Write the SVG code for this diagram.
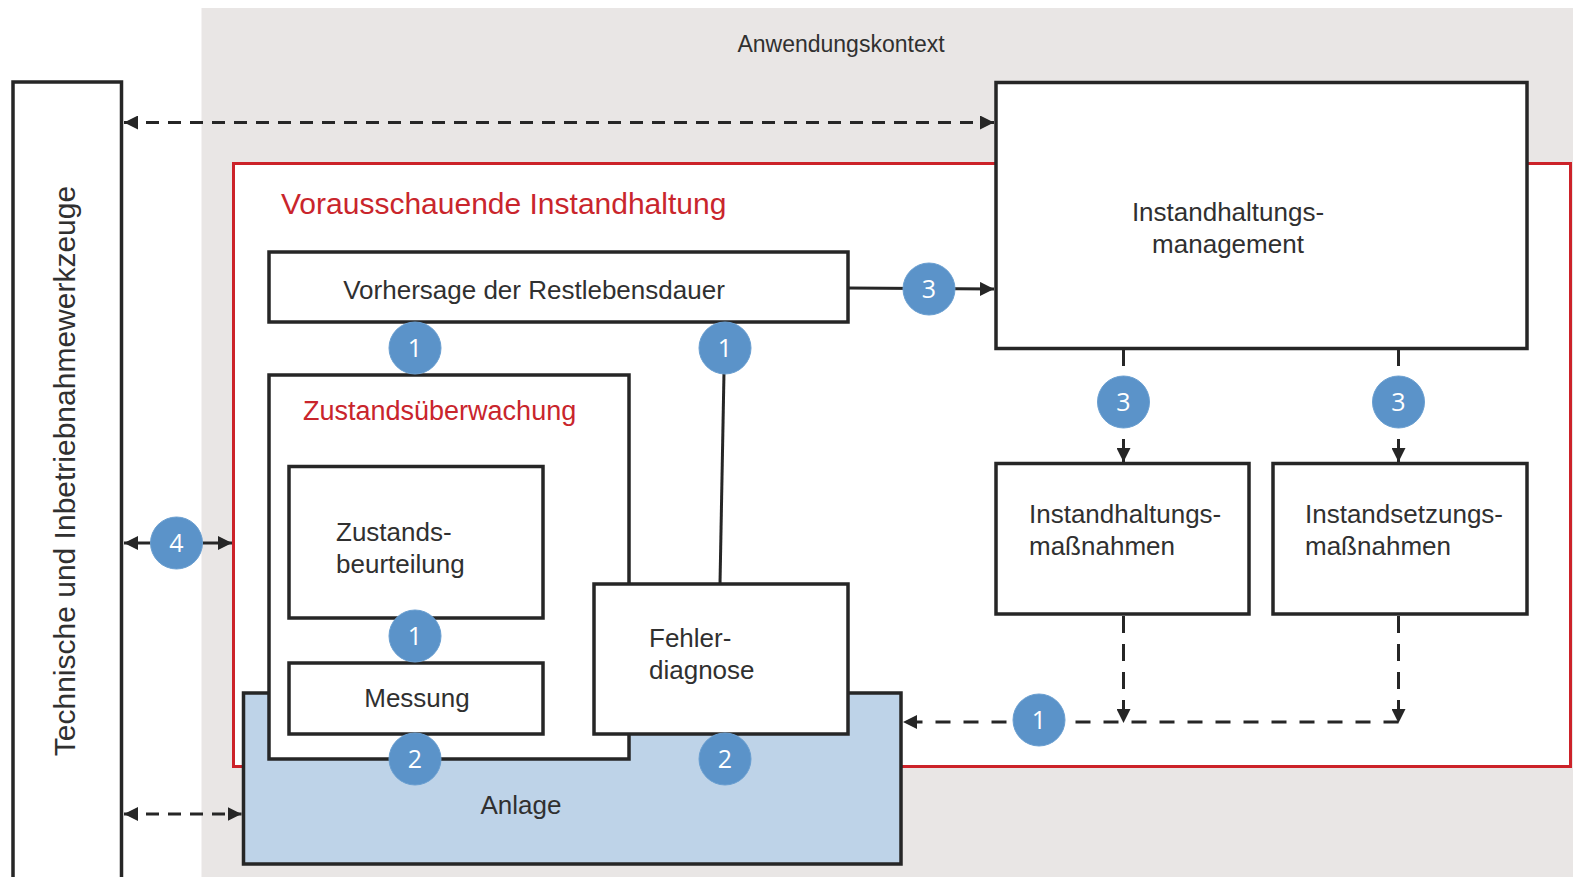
<svg xmlns="http://www.w3.org/2000/svg" width="1573" height="877" viewBox="0 0 1573 877">
  <style>
    .box { fill: #ffffff; stroke: #262626; stroke-width: 3.5; }
    .lbl { font-family: "Liberation Sans", Arial, sans-serif; font-size: 26px; fill: #303030; }
    .red { font-family: "Liberation Sans", Arial, sans-serif; fill: #c9252c; }
    .ln { fill: none; stroke: #262626; stroke-width: 3; }
    .dash { fill: none; stroke: #262626; stroke-width: 3; stroke-dasharray: 13 9; }
    .dashv { fill: none; stroke: #262626; stroke-width: 3; stroke-dasharray: 17 11; }
    .dashh { fill: none; stroke: #262626; stroke-width: 3; stroke-dasharray: 15 13; }
    .badge circle { fill: #5b93c9; stroke: #6a9fd1; stroke-width: 1; }
    .badge text { font-family: "Open Sans", "Noto Sans", sans-serif; font-size: 25px; fill: #ffffff; text-anchor: middle; }
  </style>
  <defs>
    <marker id="arrow" viewBox="0 0 12 12" refX="12" refY="6" markerWidth="14" markerHeight="14" markerUnits="userSpaceOnUse" orient="auto-start-reverse">
      <path d="M0,0 L12,6 L0,12 z" fill="#262626"/>
    </marker>
  </defs>

  <!-- application context background -->
  <rect x="201.5" y="8" width="1372" height="869" fill="#e9e6e5"/>
  <text x="841" y="52" class="lbl" text-anchor="middle" style="font-size:23px">Anwendungskontext</text>

  <!-- predictive maintenance frame -->
  <g id="praediktiv">
    <rect x="233.5" y="163.5" width="1337" height="603" fill="#ffffff" stroke="#cc2229" stroke-width="3"/>
    <text x="281" y="214" class="red" font-size="30">Vorausschauende Instandhaltung</text>
  </g>

  <!-- tools column -->
  <g id="werkzeuge">
    <rect x="13" y="82" width="108.5" height="810" class="box"/>
    <text transform="translate(75,471) rotate(-90)" class="lbl" text-anchor="middle" style="font-size:30px">Technische und Inbetriebnahmewerkzeuge</text>
  </g>

  <!-- plant -->
  <g id="anlage">
    <rect x="243.5" y="693" width="657.5" height="171" fill="#bed3e8" stroke="#262626" stroke-width="3.5"/>
    <text x="521" y="814" class="lbl" text-anchor="middle">Anlage</text>
  </g>

  <!-- condition monitoring -->
  <g id="zustandsueberwachung">
    <rect x="269" y="375" width="360" height="384" class="box"/>
    <text x="303" y="420" class="red" font-size="27">Zustandsüberwachung</text>
  </g>
  <g id="zustandsbeurteilung">
    <rect x="289" y="466.5" width="254" height="151.5" class="box"/>
    <text x="336" y="541" class="lbl">Zustands-</text>
    <text x="336" y="573" class="lbl">beurteilung</text>
  </g>
  <g id="messung">
    <rect x="289" y="663" width="254" height="71" class="box"/>
    <text x="417" y="707" class="lbl" text-anchor="middle">Messung</text>
  </g>

  <!-- fault diagnosis -->
  <g id="fehlerdiagnose">
    <rect x="594" y="584" width="254" height="150" class="box"/>
    <text x="649" y="647" class="lbl">Fehler-</text>
    <text x="649" y="679" class="lbl">diagnose</text>
  </g>

  <!-- remaining useful life -->
  <g id="restlebensdauer">
    <rect x="269" y="252" width="579" height="70" class="box"/>
    <text x="534" y="299" class="lbl" text-anchor="middle">Vorhersage der Restlebensdauer</text>
  </g>

  <!-- maintenance management -->
  <g id="management">
    <rect x="996" y="82.5" width="531" height="266" class="box"/>
    <text x="1228" y="221" class="lbl" text-anchor="middle">Instandhaltungs-</text>
    <text x="1228" y="253" class="lbl" text-anchor="middle">management</text>
  </g>
  <g id="instandhaltungsmassnahmen">
    <rect x="996" y="463.5" width="253" height="150.5" class="box"/>
    <text x="1029" y="523" class="lbl">Instandhaltungs-</text>
    <text x="1029" y="555" class="lbl">maßnahmen</text>
  </g>
  <g id="instandsetzungsmassnahmen">
    <rect x="1273" y="463.5" width="254" height="150.5" class="box"/>
    <text x="1305" y="523" class="lbl">Instandsetzungs-</text>
    <text x="1305" y="555" class="lbl">maßnahmen</text>
  </g>

  <!-- connectors -->
  <g id="connectors">
    <line x1="124" y1="122.5" x2="994" y2="122.5" class="dash" marker-start="url(#arrow)" marker-end="url(#arrow)"/>
    <line x1="124" y1="814" x2="241.5" y2="814" class="dash" marker-start="url(#arrow)" marker-end="url(#arrow)"/>
    <line x1="848" y1="288" x2="994" y2="289" class="ln" marker-end="url(#arrow)"/>
    <line x1="1123.5" y1="348" x2="1123.5" y2="366" class="ln"/>
    <line x1="1123.5" y1="439" x2="1123.5" y2="462" class="ln" marker-end="url(#arrow)"/>
    <line x1="1398.5" y1="348" x2="1398.5" y2="366" class="ln"/>
    <line x1="1398.5" y1="439" x2="1398.5" y2="462" class="ln" marker-end="url(#arrow)"/>
    <line x1="724" y1="372" x2="720" y2="584" class="ln"/>
    <line x1="1123.5" y1="616" x2="1123.5" y2="723" class="dashv" marker-end="url(#arrow)"/>
    <line x1="1398.5" y1="616" x2="1398.5" y2="723" class="dashv" marker-end="url(#arrow)"/>
    <line x1="1398.5" y1="722" x2="903" y2="722" class="dashh" marker-end="url(#arrow)"/>
    <line x1="152" y1="543" x2="124" y2="543" class="ln" marker-end="url(#arrow)"/>
    <line x1="201" y1="543" x2="232" y2="543" class="ln" marker-end="url(#arrow)"/>
  </g>

  <!-- numbered markers -->
  <g id="badges">
    <g class="badge"><circle cx="929" cy="289" r="26"/><text x="929" y="298">3</text></g>
    <g class="badge"><circle cx="1123.5" cy="402" r="26"/><text x="1123.5" y="411">3</text></g>
    <g class="badge"><circle cx="1398.5" cy="402" r="26"/><text x="1398.5" y="411">3</text></g>
    <g class="badge"><circle cx="415" cy="348" r="26"/><text x="415" y="357">1</text></g>
    <g class="badge"><circle cx="725" cy="348" r="26"/><text x="725" y="357">1</text></g>
    <g class="badge"><circle cx="415" cy="636" r="26"/><text x="415" y="645">1</text></g>
    <g class="badge"><circle cx="1039" cy="720" r="26"/><text x="1039" y="729">1</text></g>
    <g class="badge"><circle cx="415" cy="759" r="26"/><text x="415" y="768">2</text></g>
    <g class="badge"><circle cx="725" cy="759" r="26"/><text x="725" y="768">2</text></g>
    <g class="badge"><circle cx="176.5" cy="543" r="26"/><text x="176.5" y="552">4</text></g>
  </g>
</svg>
